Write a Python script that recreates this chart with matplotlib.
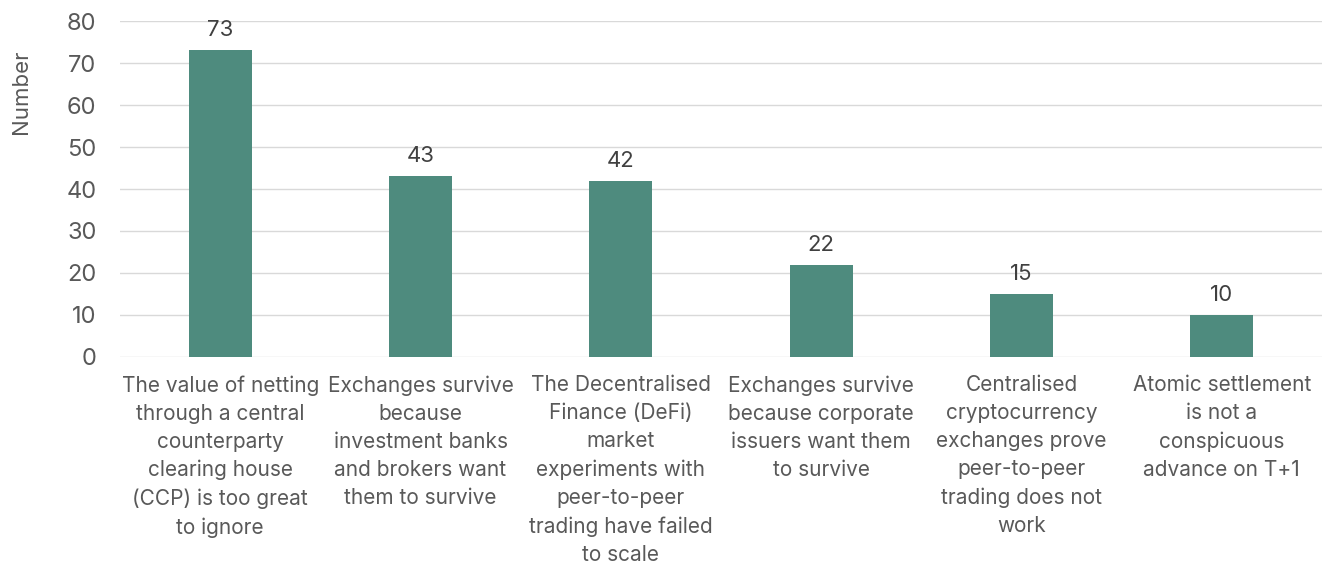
import matplotlib
matplotlib.use("Agg")
import matplotlib.pyplot as plt

categories = [
    "The value of netting\nthrough a central\ncounterparty\nclearing house\n(CCP) is too great\nto ignore",
    "Exchanges survive\nbecause\ninvestment banks\nand brokers want\nthem to survive",
    "The Decentralised\nFinance (DeFi)\nmarket\nexperiments with\npeer-to-peer\ntrading have failed\nto scale",
    "Exchanges survive\nbecause corporate\nissuers want them\nto survive",
    "Centralised\ncryptocurrency\nexchanges prove\npeer-to-peer\ntrading does not\nwork",
    "Atomic settlement\nis not a\nconspicuous\nadvance on T+1",
]
values = [73, 43, 42, 22, 15, 10]
yticks = [0, 10, 20, 30, 40, 50, 60, 70, 80]

plt.rcParams['font.family'] = ['Inter', 'DejaVu Sans']
text_color = "#595959"
bar_color = "#4e8b7e"

fig = plt.figure(figsize=(13.28, 5.62), dpi=100)
ax = fig.add_axes([0.0904, 0.3648, 0.9051, 0.5978])

x = list(range(len(categories)))
ax.bar(x, values, width=0.315, color=bar_color, zorder=3)
for xi, v in zip(x, values):
    ax.text(xi, v + 2.4, str(v), ha="center", va="bottom", fontsize=16, color="#404040")

ax.set_xlim(-0.5, len(categories) - 0.5)
ax.set_ylim(0, 80)
ax.set_yticks(yticks)
ax.set_yticklabels([str(t) for t in yticks], fontsize=17, color=text_color)
ax.set_xticks(x)
ax.set_xticklabels(categories, fontsize=15, color=text_color, linespacing=1.5, va="top")
ax.tick_params(axis="both", length=0)
ax.tick_params(axis="y", pad=17)
ax.tick_params(axis="x", pad=13)

ax.grid(axis="y", color="#d9d9d9", linewidth=1, zorder=0)
for s in ["top", "right", "left", "bottom"]:
    ax.spines[s].set_visible(False)

ax.set_ylabel("Number", fontsize=16, color=text_color)
ax.yaxis.set_label_coords(-0.074, 0.79)

fig.savefig("out.png", dpi=100)
